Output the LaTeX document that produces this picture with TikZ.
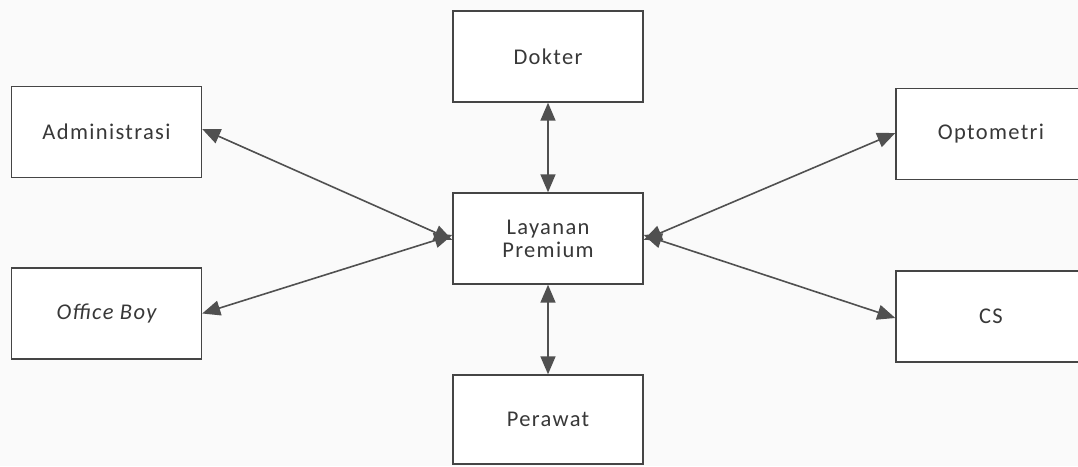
\documentclass[tikz,border=0pt]{standalone}
\usepackage{fontspec}
\setmainfont{Carlito}[LetterSpace=6]
\usetikzlibrary{arrows.meta}
\definecolor{linecol}{HTML}{454545}
\definecolor{arrcol}{HTML}{505050}
\definecolor{txtcol}{HTML}{383838}
\definecolor{bgcol}{HTML}{FAFAFA}
\begin{document}
\begin{tikzpicture}[x=1pt,y=-1pt,
  box/.style={draw=linecol,line width=1.4pt,fill=white,minimum width=190pt,minimum height=91pt,
    inner sep=0pt,text=txtcol,font=\fontsize{22.5}{23}\selectfont,align=center},
  link/.style={draw=arrcol,line width=1.6pt,{Triangle[length=18pt,width=15pt]}-{Triangle[length=18pt,width=15pt]}}]
\useasboundingbox (0,0) rectangle (1078,466);
\fill[bgcol] (0,0) rectangle (1078,466);
\clip (0,0) rectangle (1078,466);
\node[box] (adm) at (106.5,132) {Administrasi};
\node[box] (ob) at (106.5,313.5) {\itshape Office Boy};
\node[box] (dok) at (548,56.5) {Dokter};
\node[box] (lay) at (548,238.5) {Layanan\\Premium};
\node[box,minimum height=89pt] (per) at (548,419.5) {Perawat};
\node[box] (opt) at (991,134) {Optometri};
\node[box] (cs) at (991,316.5) {CS};
\draw[link] ([yshift=3pt]adm.east) -- ([yshift=-1.5pt]lay.west);
\draw[link] (ob.east) -- ([yshift=3.5pt]lay.west);
\draw[link] (dok.south) -- (lay.north);
\draw[link] (lay.south) -- (per.north);
\draw[link] ([yshift=1pt]opt.west) -- ([yshift=-1.5pt]lay.east);
\draw[link] ([yshift=-1.5pt]cs.west) -- ([yshift=3.5pt]lay.east);
\end{tikzpicture}
\end{document}
